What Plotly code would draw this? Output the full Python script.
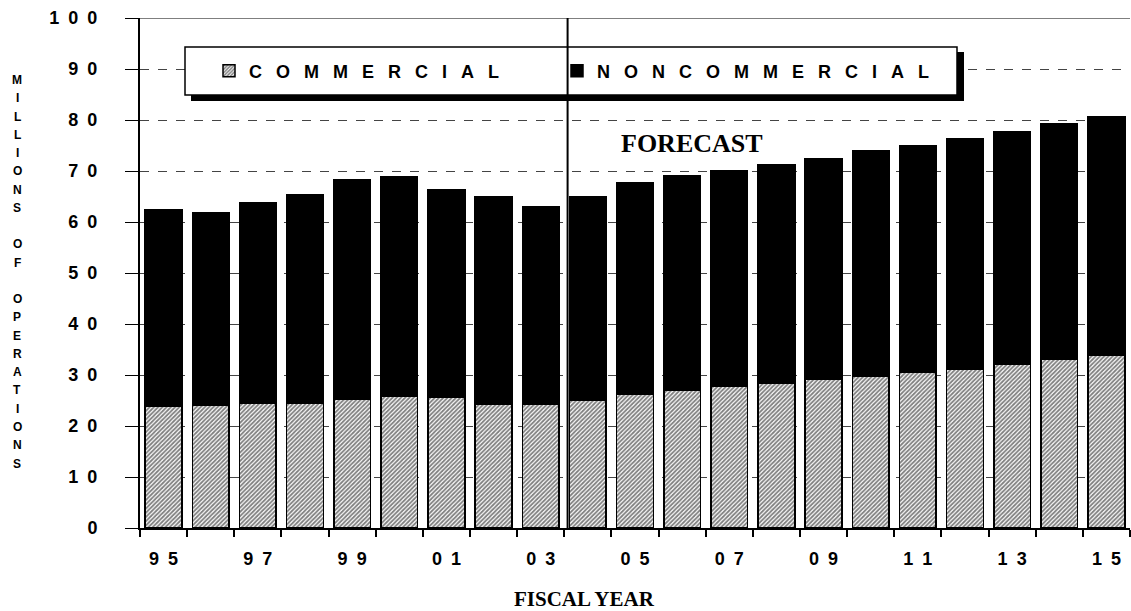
import plotly.graph_objects as go

years = ["95", "96", "97", "98", "99", "00", "01", "02", "03", "04", "05",
         "06", "07", "08", "09", "10", "11", "12", "13", "14", "15"]
commercial = [23.8, 24.0, 24.4, 24.4, 25.2, 25.9, 25.7, 24.2, 24.2, 25.1, 26.3,
              27.0, 27.7, 28.4, 29.1, 29.8, 30.6, 31.2, 32.1, 33.0, 33.9]
total = [62.5, 61.9, 63.8, 65.4, 68.3, 68.8, 66.4, 65.0, 62.9, 65.0, 67.7,
         69.0, 70.1, 71.3, 72.5, 73.9, 75.0, 76.4, 77.7, 79.2, 80.7]
noncommercial = [round(t - c, 1) for t, c in zip(total, commercial)]

y_ticks = [0, 10, 20, 30, 40, 50, 60, 70, 80, 90, 100]
y_ticktext = ["\u2002".join(str(v)) for v in y_ticks]
x_ticktext = ["\u2002".join(y) if i % 2 == 0 else "" for i, y in enumerate(years)]
y_title_lines = list("MILLIONS") + [""] + list("OF") + [""] + list("OPERATIONS")

def spaced(s):
    return "\u2002\u00a0".join(s)

SANS = "Liberation Sans, Arial, sans-serif"
SERIF = "Liberation Serif, Times New Roman, serif"

fig = go.Figure()
fig.add_trace(go.Bar(
    x=years, y=commercial, name=spaced("COMMERCIAL"), legend="legend",
    marker=dict(color="white",
                pattern=dict(shape="/", fgcolor="black", bgcolor="white",
                             size=3, solidity=0.6),
                line=dict(color="black", width=1.5)),
))
fig.add_trace(go.Bar(
    x=years, y=noncommercial, name=spaced("NONCOMMERCIAL"), legend="legend2",
    marker=dict(color="black", line=dict(color="black", width=1.5)),
))

W, H = 1131, 611
L, R, T, B = 140, 1, 18, 83
pw, ph = W - L - R, H - T - B

def px(xp):
    return (xp - L) / pw

def py(yp):
    return (H - B - yp) / ph

shapes = [
    dict(type="rect", xref="paper", yref="paper",
         x0=px(191), x1=px(964), y0=py(101), y1=py(52),
         fillcolor="black", line=dict(width=0), layer="above"),
    dict(type="rect", xref="paper", yref="paper",
         x0=px(185), x1=px(957), y0=py(95), y1=py(47),
         fillcolor="white", line=dict(color="black", width=1.5), layer="above"),
    dict(type="line", xref="paper", yref="y", x0=0, x1=1, y0=100, y1=100,
         line=dict(color="black", width=1.2), layer="above"),
    dict(type="line", xref="x", yref="y", x0=8.57, x1=8.57, y0=0, y1=100,
         line=dict(color="black", width=2), layer="above"),
]

annotations = [
    dict(text="FORECAST", x=11.2, y=75.4, xref="x", yref="y", showarrow=False,
         font=dict(family=SERIF, size=26, color="black", weight="bold")),
    dict(text="FISCAL YEAR", x=px(584), y=py(611), yshift=-2,
         xref="paper", yref="paper", showarrow=False,
         xanchor="center", yanchor="bottom",
         font=dict(family=SERIF, size=21, color="black", weight="bold")),
]

pitch = (463.5 - 80) / (len(y_title_lines) - 1)
for i, ch in enumerate(y_title_lines):
    if ch:
        annotations.append(dict(
            text=ch, x=px(17), y=py(80 + i * pitch), xref="paper", yref="paper",
            showarrow=False, xanchor="center", yanchor="middle",
            font=dict(family=SANS, size=12, color="black", weight="bold")))

legend_common = dict(orientation="h", xanchor="left", yanchor="middle",
                     bgcolor="rgba(0,0,0,0)", borderwidth=0,
                     font=dict(family=SANS, size=18, color="black", weight="bold"))

fig.update_layout(
    width=W, height=H,
    margin=dict(l=L, r=R, t=T, b=B),
    barmode="stack", bargap=0.22,
    plot_bgcolor="white", paper_bgcolor="white",
    font=dict(family=SANS, color="black"),
    showlegend=True,
    legend=dict(x=px(209), y=py(71), **legend_common),
    legend2=dict(x=px(557), y=py(71), **legend_common),
    shapes=shapes,
    annotations=annotations,
    xaxis=dict(
        type="category", range=[-0.5, 20.5],
        tickmode="array", tickvals=years, ticktext=x_ticktext,
        tickson="boundaries", ticks="outside", ticklen=7, tickcolor="black", tickwidth=1.5,
        ticklabelstandoff=14,
        showline=True, linecolor="black", linewidth=1.5, showgrid=False,
        tickfont=dict(family=SANS, size=18, color="black", weight="bold"),
    ),
    yaxis=dict(
        range=[0, 100], tickmode="array", tickvals=y_ticks, ticktext=y_ticktext,
        ticks="outside", ticklen=13, tickcolor="black", tickwidth=1.2,
        ticklabelstandoff=24,
        showline=True, linecolor="black", linewidth=2,
        showgrid=True, gridcolor="#444444", griddash="dash", gridwidth=1,
        zeroline=False,
        tickfont=dict(family=SANS, size=18, color="black", weight="bold"),
    ),
)

fig.write_html("out.html", config={"displayModeBar": False},
               post_script="document.body.style.margin='0';document.body.style.overflow='hidden';")
